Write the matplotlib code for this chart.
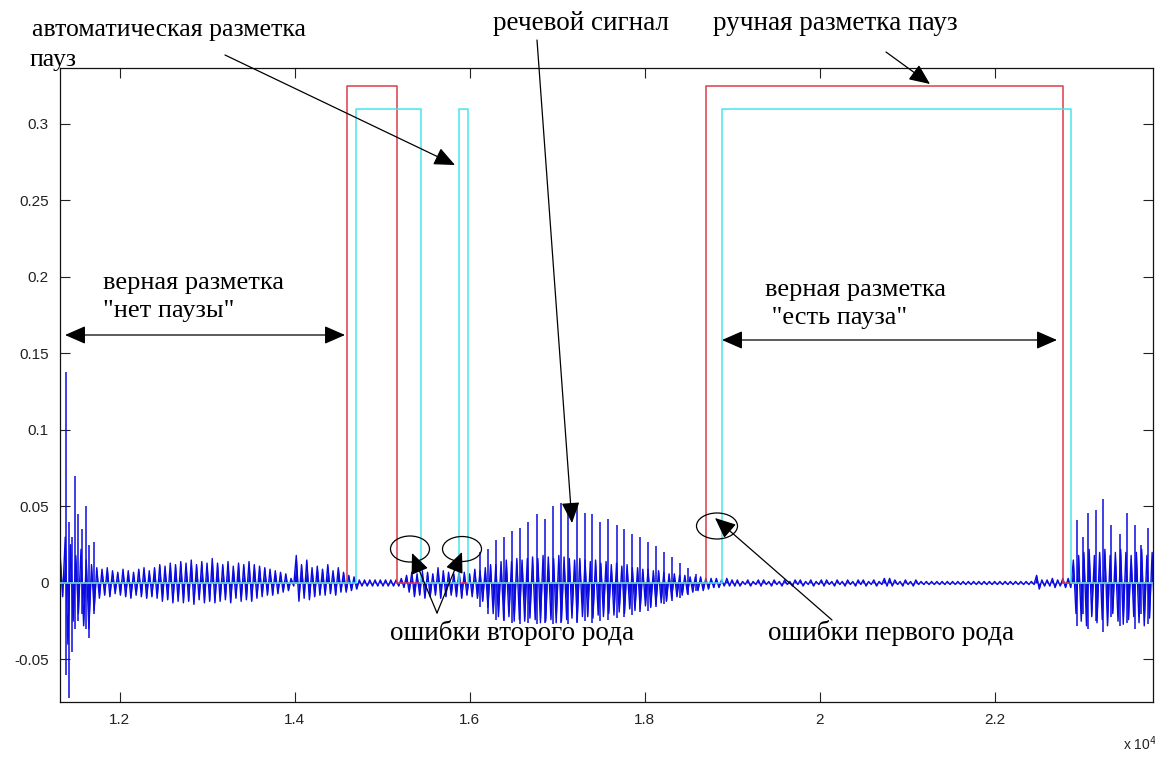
import numpy as np
import matplotlib
matplotlib.use("Agg")
from matplotlib import pyplot as plt
from matplotlib.patches import Ellipse, FancyArrowPatch
from matplotlib.ticker import FuncFormatter, FixedLocator
from matplotlib.transforms import IdentityTransform

W, H = 1155, 758

# signal envelope, bins of 60 samples starting at 11320 (values in 1e-3)
bin_start = 11320
bin_step = 60
env_hi = [20, 30, 25, 18, 22, 15, 12, 10,
          9, 10, 8, 7, 9, 8, 7, 9, 10, 8,
          10, 12, 11, 13, 12, 14, 13, 15, 12, 14, 13, 16,
          13, 12, 14, 11, 13, 12, 14, 12, 11, 10,
          9, 8, 7, 6, 3,
          18, 12, 15, 10, 11,
          9, 12, 8, 10, 7,
          5, 4,
          2, 2, 2, 2, 2, 2, 2,
          2, 3, 5,
          7, 6, 8, 7, 6, 10, 8, 7, 6, 8, 7, 6, 9,
          8, 10, 12, 12, 14, 15, 14, 16, 15, 16,
          17, 16, 18, 17, 16, 18, 17, 16, 15, 16,
          15, 14, 15, 13, 14, 12, 13, 11, 12, 10,
          10, 9, 9, 8, 8, 7, 6, 6, 5, 5, 4, 4,
          4, 3, 3, 3, 2, 3, 2,
          2, 1, 2, 1, 2, 2, 1, 2, 1, 2, 1, 2, 2, 1, 2, 1, 2, 2,
          1, 2, 1, 2, 1, 2, 2, 1, 2, 1, 3, 3, 2, 1, 2, 1, 2,
          1, 1, 1, 1, 1, 1, 1, 1, 1, 1, 1, 1, 1, 1, 1, 1, 1, 1, 1, 1, 1, 1,
          5,
          2, 2, 3, 2, 3, 3,
          15, 18, 20, 22, 18, 20, 22, 18, 20, 22, 20, 18, 20, 22, 18, 20]
env_lo = [-9, -40, -25, -20, -28, -30, -18, -10,
          -8, -9, -7, -8, -9, -10, -8, -9, -10, -9,
          -10, -12, -11, -13, -12, -13, -12, -14, -11, -13, -12, -13,
          -12, -11, -13, -10, -12, -11, -12, -10, -9, -8,
          -8, -7, -6, -5, -2,
          -12, -10, -11, -9, -8,
          -8, -7, -8, -6, -6,
          -5, -4,
          -2, -2, -2, -2, -2, -2, -2,
          -2, -3, -6,
          -9, -8, -10, -9, -8, -10, -9, -8, -9, -10, -8, -9, -10,
          -12, -16, -20, -22, -24, -22, -25, -24, -25, -23,
          -24, -26, -25, -24, -26, -25, -24, -23, -25, -22,
          -22, -23, -21, -22, -20, -21, -19, -20, -17, -18,
          -17, -15, -16, -14, -13, -12, -10, -9, -8, -7, -6, -5,
          -5, -4, -3, -3, -2, -2, -2,
          -2, -1, -2, -1, -2, -1, -2, -1, -2, -1, -2, -1, -2, -1, -2, -1, -2, -1,
          -2, -1, -2, -1, -2, -1, -2, -1, -2, -1, -2, -2, -1, -2, -1, -2, -1,
          -1, -1, -1, -1, -1, -1, -1, -1, -1, -1, -1, -1, -1, -1, -1, -1, -1, -1, -1, -1, -1, -1,
          -4,
          -2, -2, -3, -2, -3, -3,
          -20, -25, -28, -22, -26, -24, -28, -20, -25, -27, -24, -22, -26, -28, -23, -25]

# individual spikes (sample, top, bottom) in 1e-3
spike_x = [11388, 11423, 11457, 11491, 11526, 11571, 11617, 11651, 11709,
           16120, 16210, 16300, 16395, 16485, 16575, 16665, 16770, 16860, 16950,
           17040, 17130, 17225, 17315, 17405, 17495, 17585, 17680, 17770, 17860,
           17950, 18040, 18130, 18225, 18315, 18405, 18495, 18585,
           22944, 23013, 23070, 23161, 23241, 23333, 23436, 23516, 23607, 23676, 23756]
spike_hi = [138, 40, 30, 70, 45, 35, 50, 25, 27,
            20, 22, 28, 30, 34, 36, 40, 45, 42, 50,
            52, 48, 50, 46, 45, 40, 42, 38, 35, 32,
            30, 27, 24, 20, 17, 13, 10, 6,
            41, 30, 46, 48, 55, 38, 32, 46, 38, 25, 36]
spike_lo = [-60, -75, -45, -30, -25, -20, -30, -36, -20,
            -16, -20, -24, -25, -26, -27, -26, -27, -26, -27,
            -26, -27, -26, -25, -26, -25, -24, -23, -22, -21,
            -19, -18, -16, -14, -12, -10, -8, -5,
            -28, -20, -30, -25, -32, -22, -28, -26, -30, -20, -27]

# pause marking intervals (samples)
manual_pauses = [(14600, 15170), (18700, 22780)]
auto_pauses = [(14700, 15450), (15880, 15980), (18890, 22875)]
manual_level = 0.325
auto_level = 0.31

x_min, x_max = 11320, 23810
y_min, y_max = -0.0778, 0.3366
xticks = [12000, 14000, 16000, 18000, 20000, 22000]
yticks = [-0.05, 0, 0.05, 0.1, 0.15, 0.2, 0.25, 0.3]

BLUE = "#0b0be0"
RED = "#de3c48"
CYAN = "#46e6e6"
SERIF = ["Liberation Serif", "DejaVu Serif"]


def steps(pauses, level):
    xs, ys = [x_min], [0]
    for a, b in pauses:
        xs += [a, a, b, b]
        ys += [0, level, level, 0]
    xs.append(x_max)
    ys.append(0)
    return xs, ys


def px(x, y):
    # pixel position from top-left -> display coords
    return (x, H - y)


fig = plt.figure(figsize=(W / 100, H / 100), dpi=100)
ax = fig.add_axes([60 / W, 56 / H, 1093 / W, 634 / H])

n = len(env_hi)
sx = np.empty(2 * n)
sy = np.empty(2 * n)
starts = bin_start + bin_step * np.arange(n)
sx[0::2] = starts
sx[1::2] = starts + bin_step / 2
sy[0::2] = np.array(env_hi) / 1000
sy[1::2] = np.array(env_lo) / 1000
ax.fill_between(sx, sy, 0, color=BLUE, lw=0, zorder=2)
ax.plot(sx, sy, color=BLUE, lw=1.0, zorder=2)
ax.vlines(spike_x, np.array(spike_lo) / 1000, np.array(spike_hi) / 1000,
          color=BLUE, lw=1.1, zorder=2)

rx, ry = steps(manual_pauses, manual_level)
ax.plot(rx, ry, color=RED, lw=1.1, zorder=3)
cx, cy = steps(auto_pauses, auto_level)
ax.plot(cx, cy, color=CYAN, lw=1.1, zorder=4)

ax.set_xlim(x_min, x_max)
ax.set_ylim(y_min, y_max)
ax.xaxis.set_major_locator(FixedLocator(xticks))
ax.yaxis.set_major_locator(FixedLocator(yticks))
ax.xaxis.set_major_formatter(FuncFormatter(lambda v, p: "%g" % (v / 1e4)))
ax.yaxis.set_major_formatter(FuncFormatter(lambda v, p: "%g" % v))
ax.tick_params(direction="in", length=7, width=0.8, top=True, right=True,
               labelsize=11, colors="#222222", pad=8)
for lab in ax.get_xticklabels() + ax.get_yticklabels():
    lab.set_fontfamily("Liberation Sans")
for s in ax.spines.values():
    s.set_linewidth(0.9)
    s.set_color("#111111")
fig.text(1140 / W, 1 - 750 / H, r"x 10$^{4}$", ha="center", va="baseline",
         fontsize=10, family="Liberation Sans", color="#222222")

# annotations (pixel layout): x, y, text, size
texts = [
    (32, 30, "автоматическая разметка", 18.5),
    (30, 60, "пауз", 18.5),
    (493, 24, "речевой сигнал", 19.5),
    (713, 24, "ручная разметка пауз", 19.5),
    (103, 283, "верная разметка", 19),
    (103, 311, "\"нет паузы\"", 19),
    (765, 290, "верная разметка", 19),
    (765, 318, " \"есть пауза\"", 19),
    (390, 633, "ошибки второго рода", 19.5),
    (768, 633, "ошибки первого рода", 19.5),
]
for x, y, t, fs in texts:
    fig.text(x / W, 1 - y / H, t, ha="left", va="center", fontsize=fs,
             family=SERIF, color="black")

arrows = [
    ((225, 55), (455, 165), "-|>"),
    ((537, 40), (572, 523), "-|>"),
    ((886, 52), (930, 84), "-|>"),
    ((437, 613), (412, 553), "-|>"),
    ((437, 613), (462, 552), "-|>"),
    ((832, 620), (715, 518), "-|>"),
    ((65, 335), (345, 335), "<|-|>"),
    ((722, 340), (1057, 340), "<|-|>"),
]
for p0, p1, style in arrows:
    arr = FancyArrowPatch(px(*p0), px(*p1), transform=IdentityTransform(),
                          arrowstyle=style + ",head_length=8,head_width=3.5",
                          mutation_scale=1.6, lw=0.9, color="black",
                          shrinkA=0, shrinkB=0, zorder=6)
    fig.patches.append(arr)

ellipses = [(410, 549, 39, 26), (462, 549, 39, 25), (717, 526, 41, 26)]
for x, y, w, h in ellipses:
    e = Ellipse(px(x, y), w, h, transform=IdentityTransform(), fill=False,
                lw=0.9, ec="black", zorder=6)
    fig.patches.append(e)

fig.savefig("out.png", dpi=100)
